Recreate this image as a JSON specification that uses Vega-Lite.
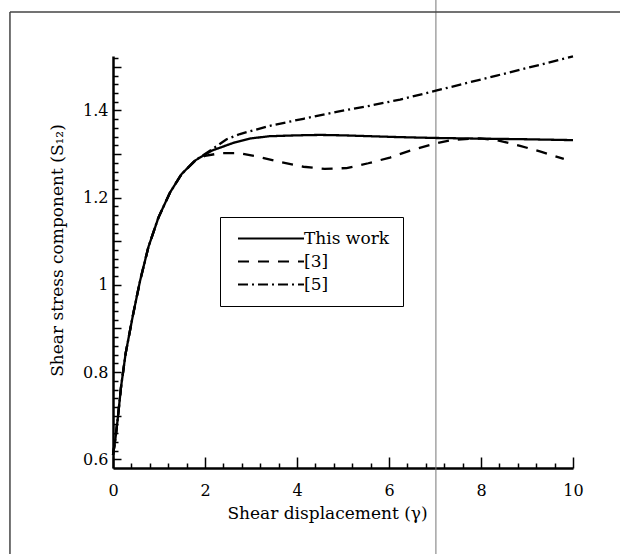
{
  "$schema": "https://vega.github.io/schema/vega-lite/v6.json",
  "width": 460,
  "height": 412,
  "autosize": {"type": "none"},
  "padding": {"left": 113, "top": 56, "right": 47, "bottom": 86},
  "background": "white",
  "config": {"view": {"stroke": null}, "font": "DejaVu Serif"},
  "datasets": {
    "frame": [
      {"x": -2.24, "x2": 11.1, "y": 1.626, "y2": 1.626},
      {"x": -2.24, "x2": -2.24, "y": 0.37, "y2": 1.626}
    ],
    "scanline": [
      {"x": 7.02, "x2": 7.02, "y": 0.37, "y2": 1.66}
    ],
    "curves": [
      {"s": "[5]", "x": 0, "y": 0.61},
      {"s": "[5]", "x": 0.05, "y": 0.645},
      {"s": "[5]", "x": 0.1, "y": 0.69},
      {"s": "[5]", "x": 0.175, "y": 0.766},
      {"s": "[5]", "x": 0.275, "y": 0.843},
      {"s": "[5]", "x": 0.36, "y": 0.89},
      {"s": "[5]", "x": 0.44, "y": 0.934},
      {"s": "[5]", "x": 0.59, "y": 1.01},
      {"s": "[5]", "x": 0.77, "y": 1.087},
      {"s": "[5]", "x": 0.99, "y": 1.155},
      {"s": "[5]", "x": 1.24, "y": 1.212},
      {"s": "[5]", "x": 1.49, "y": 1.254},
      {"s": "[5]", "x": 1.78, "y": 1.285},
      {"s": "[5]", "x": 2.15, "y": 1.311},
      {"s": "[5]", "x": 2.47, "y": 1.334},
      {"s": "[5]", "x": 2.76, "y": 1.346},
      {"s": "[5]", "x": 3.41, "y": 1.365},
      {"s": "[5]", "x": 4.14, "y": 1.381},
      {"s": "[5]", "x": 4.86, "y": 1.397},
      {"s": "[5]", "x": 5.59, "y": 1.411},
      {"s": "[5]", "x": 6.24, "y": 1.425},
      {"s": "[5]", "x": 7.04, "y": 1.446},
      {"s": "[5]", "x": 8.34, "y": 1.48},
      {"s": "[5]", "x": 10, "y": 1.524},
      {"s": "[3]", "x": 0, "y": 0.61},
      {"s": "[3]", "x": 0.05, "y": 0.645},
      {"s": "[3]", "x": 0.1, "y": 0.69},
      {"s": "[3]", "x": 0.175, "y": 0.766},
      {"s": "[3]", "x": 0.275, "y": 0.843},
      {"s": "[3]", "x": 0.36, "y": 0.89},
      {"s": "[3]", "x": 0.44, "y": 0.934},
      {"s": "[3]", "x": 0.59, "y": 1.01},
      {"s": "[3]", "x": 0.77, "y": 1.087},
      {"s": "[3]", "x": 0.99, "y": 1.155},
      {"s": "[3]", "x": 1.24, "y": 1.212},
      {"s": "[3]", "x": 1.49, "y": 1.254},
      {"s": "[3]", "x": 1.78, "y": 1.284},
      {"s": "[3]", "x": 2.0, "y": 1.296},
      {"s": "[3]", "x": 2.33, "y": 1.302},
      {"s": "[3]", "x": 2.76, "y": 1.302},
      {"s": "[3]", "x": 3.2, "y": 1.293},
      {"s": "[3]", "x": 3.67, "y": 1.281},
      {"s": "[3]", "x": 4.14, "y": 1.271},
      {"s": "[3]", "x": 4.6, "y": 1.266},
      {"s": "[3]", "x": 5.08, "y": 1.268},
      {"s": "[3]", "x": 5.55, "y": 1.279},
      {"s": "[3]", "x": 6.02, "y": 1.292},
      {"s": "[3]", "x": 6.46, "y": 1.308},
      {"s": "[3]", "x": 6.96, "y": 1.323},
      {"s": "[3]", "x": 7.4, "y": 1.333},
      {"s": "[3]", "x": 7.98, "y": 1.336},
      {"s": "[3]", "x": 8.34, "y": 1.332},
      {"s": "[3]", "x": 8.85, "y": 1.319},
      {"s": "[3]", "x": 9.28, "y": 1.306},
      {"s": "[3]", "x": 9.8, "y": 1.289},
      {"s": "This work", "x": 0, "y": 0.61},
      {"s": "This work", "x": 0.05, "y": 0.645},
      {"s": "This work", "x": 0.1, "y": 0.69},
      {"s": "This work", "x": 0.175, "y": 0.766},
      {"s": "This work", "x": 0.275, "y": 0.843},
      {"s": "This work", "x": 0.36, "y": 0.89},
      {"s": "This work", "x": 0.44, "y": 0.934},
      {"s": "This work", "x": 0.59, "y": 1.01},
      {"s": "This work", "x": 0.77, "y": 1.087},
      {"s": "This work", "x": 0.99, "y": 1.155},
      {"s": "This work", "x": 1.24, "y": 1.212},
      {"s": "This work", "x": 1.49, "y": 1.254},
      {"s": "This work", "x": 1.78, "y": 1.285},
      {"s": "This work", "x": 2.15, "y": 1.308},
      {"s": "This work", "x": 2.65, "y": 1.327},
      {"s": "This work", "x": 3.0, "y": 1.336},
      {"s": "This work", "x": 3.4, "y": 1.341},
      {"s": "This work", "x": 4.0, "y": 1.343},
      {"s": "This work", "x": 4.5, "y": 1.344},
      {"s": "This work", "x": 5.0, "y": 1.343},
      {"s": "This work", "x": 5.6, "y": 1.341},
      {"s": "This work", "x": 6.2, "y": 1.339},
      {"s": "This work", "x": 7.0, "y": 1.337},
      {"s": "This work", "x": 8.3, "y": 1.335},
      {"s": "This work", "x": 9.0, "y": 1.334},
      {"s": "This work", "x": 10, "y": 1.332}
    ]
  },
  "layer": [
    {
      "data": {"name": "scanline"},
      "mark": {"type": "rule", "clip": false, "color": "#777777", "strokeWidth": 1},
      "encoding": {
        "x": {"field": "x", "type": "quantitative", "title": "Shear displacement (γ)", "scale": {"domain": [0, 10], "nice": false, "zero": false}},
        "x2": {"field": "x2"},
        "y": {"field": "y", "type": "quantitative", "title": "Shear stress component (S₁₂)", "scale": {"domain": [0.58, 1.525], "nice": false, "zero": false}},
        "y2": {"field": "y2"}
      }
    },
    {
      "data": {"name": "frame"},
      "mark": {"type": "rule", "clip": false, "color": "#444444", "strokeWidth": 1.5},
      "encoding": {
        "x": {"field": "x", "type": "quantitative", "title": "Shear displacement (γ)", "scale": {"domain": [0, 10], "nice": false, "zero": false}},
        "x2": {"field": "x2"},
        "y": {"field": "y", "type": "quantitative", "title": "Shear stress component (S₁₂)", "scale": {"domain": [0.58, 1.525], "nice": false, "zero": false}},
        "y2": {"field": "y2"}
      }
    },
    {
      "data": {"name": "curves"},
      "mark": {"type": "line", "color": "black", "strokeWidth": 2.3, "clip": false},
      "encoding": {
        "x": {
          "field": "x", "type": "quantitative", "title": "Shear displacement (γ)",
          "scale": {"domain": [0, 10], "nice": false, "zero": false},
          "axis": {
            "values": [0, 0.4, 0.8, 1.2, 1.6, 2, 2.4, 2.8, 3.2, 3.6, 4, 4.4, 4.8, 5.2, 5.6, 6, 6.4, 6.8, 7.2, 7.6, 8, 8.4, 8.8, 9.2, 9.6, 10],
            "tickCount": 200,
            "tickSize": {"condition": {"test": "datum.value % 2 === 0", "value": -11}, "value": -5},
            "labelExpr": "datum.value % 2 === 0 ? toString(datum.value) : ''",
            "tickColor": "black", "tickWidth": 1.5,
            "domainColor": "black", "domainWidth": 2.5,
            "labelFont": "DejaVu Serif", "labelFontSize": 16, "labelColor": "black",
            "labelPadding": 25, "labelOverlap": false, "labelFlush": false, "labelBound": false,
            "grid": false,
            "titleFont": "DejaVu Serif", "titleFontSize": 17, "titleFontWeight": "normal", "titleColor": "black",
            "titleX": 214, "titleY": 50, "titleAlign": "center", "titleBaseline": "alphabetic"
          }
        },
        "y": {
          "field": "y", "type": "quantitative", "title": "Shear stress component (S₁₂)",
          "scale": {"domain": [0.58, 1.525], "nice": false, "zero": false},
          "axis": {
            "values": [0.6, 0.62, 0.64, 0.66, 0.68, 0.7, 0.72, 0.74, 0.76, 0.78, 0.8, 0.82, 0.84, 0.86, 0.88, 0.9, 0.92, 0.94, 0.96, 0.98, 1, 1.02, 1.04, 1.06, 1.08, 1.1, 1.12, 1.14, 1.16, 1.18, 1.2, 1.22, 1.24, 1.26, 1.28, 1.3, 1.32, 1.34, 1.36, 1.38, 1.4, 1.42, 1.44, 1.46, 1.48, 1.5, 1.52],
            "tickCount": 200,
            "tickSize": {"condition": {"test": "abs(datum.value*10 - round(datum.value*10)) < 0.001", "value": -8}, "value": -5},
            "labelExpr": "abs(datum.value*5 - round(datum.value*5)) < 0.001 ? toString(datum.value) : ''",
            "tickColor": "black", "tickWidth": 1.5,
            "domainColor": "black", "domainWidth": 2.5,
            "labelFont": "DejaVu Serif", "labelFontSize": 16, "labelColor": "black",
            "labelPadding": 13, "labelOverlap": false, "labelFlush": false, "labelBound": false,
            "grid": false,
            "titleFont": "DejaVu Serif", "titleFontSize": 17, "titleFontWeight": "normal", "titleColor": "black",
            "titleX": -56, "titleY": 194, "titleAngle": -90, "titleAlign": "center", "titleBaseline": "middle"
          }
        },
        "strokeDash": {
          "field": "s", "type": "nominal",
          "scale": {"domain": ["This work", "[3]", "[5]"], "range": [[1, 0], [11, 9], [10, 4, 2, 4]]},
          "legend": {
            "title": null, "orient": "none", "legendX": 107, "legendY": 161,
            "symbolType": "M-0.7,0H12.5", "symbolSize": 100, "symbolStrokeWidth": 2.2, "symbolStrokeColor": "black",
            "labelFont": "DejaVu Serif", "labelFontSize": 17, "labelColor": "black", "labelOffset": 54,
            "strokeColor": "black", "fillColor": "white", "padding": 13, "rowPadding": 5, "cornerRadius": 0
          }
        }
      }
    }
  ]
}
